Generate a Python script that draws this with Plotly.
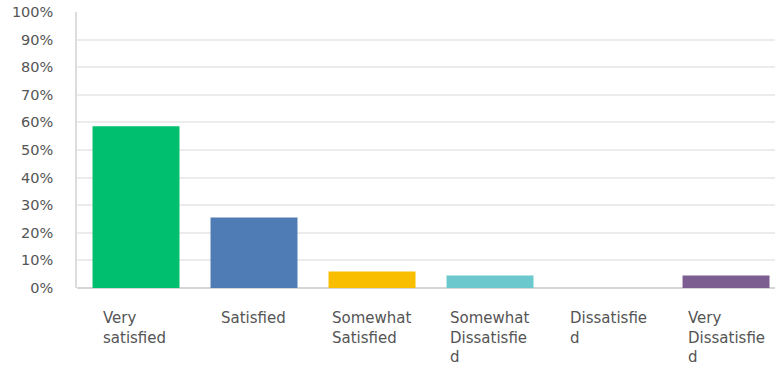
import plotly.graph_objects as go

# Survey response shares (percent of respondents)
categories = ["Very satisfied", "Satisfied", "Somewhat Satisfied",
              "Somewhat Dissatisfied", "Dissatisfied", "Very Dissatisfied"]
values = [58.6, 25.5, 6.0, 4.5, 0.0, 4.5]
bar_colors = ["#00BF6F", "#507CB6", "#F9BE00", "#6BC8CD", "#FF8B4F", "#7D5E90"]
# Wrapped axis captions, as laid out under each bar
captions = ["Very<br>satisfied", "Satisfied", "Somewhat<br>Satisfied",
            "Somewhat<br>Dissatisfie<br>d", "Dissatisfie<br>d", "Very<br>Dissatisfie<br>d"]
caption_shift = [-35, -35, -42, -42, -40, -40]

y_ticks = list(range(0, 101, 10))
y_tick_text = [f"{t}%" for t in y_ticks]

FONT = "DejaVu Sans"
TEXT = "#555555"

fig = go.Figure(
    go.Bar(
        x=list(range(len(categories))),
        y=values,
        marker=dict(color=bar_colors, line=dict(width=0)),
        hoverinfo="skip",
    )
)

for i, cap in enumerate(captions):
    fig.add_annotation(
        x=i, y=0, xref="x", yref="paper",
        text=cap, showarrow=False,
        xanchor="left", yanchor="top", align="left",
        xshift=caption_shift[i], yshift=-19,
        font=dict(family=FONT, size=15, color=TEXT),
    )

fig.update_layout(
    width=775, height=366,
    margin=dict(l=77, r=0, t=12, b=78),
    paper_bgcolor="white", plot_bgcolor="white",
    bargap=0.263,
    showlegend=False,
    xaxis=dict(
        range=[-0.5, 5.415],
        showticklabels=False, showgrid=False, zeroline=False,
        showline=False, fixedrange=True,
    ),
    yaxis=dict(
        range=[0, 100],
        tickvals=y_ticks, ticktext=y_tick_text,
        tickfont=dict(family=FONT, size=14.5, color=TEXT),
        ticklabelstandoff=19,
        showgrid=True, gridcolor="#ececec", gridwidth=1.5,
        zeroline=True, zerolinecolor="#d6d6d6", zerolinewidth=2,
        showline=True, linecolor="#dddddd", linewidth=1.5,
        fixedrange=True,
    ),
)

fig.write_html("out.html")
